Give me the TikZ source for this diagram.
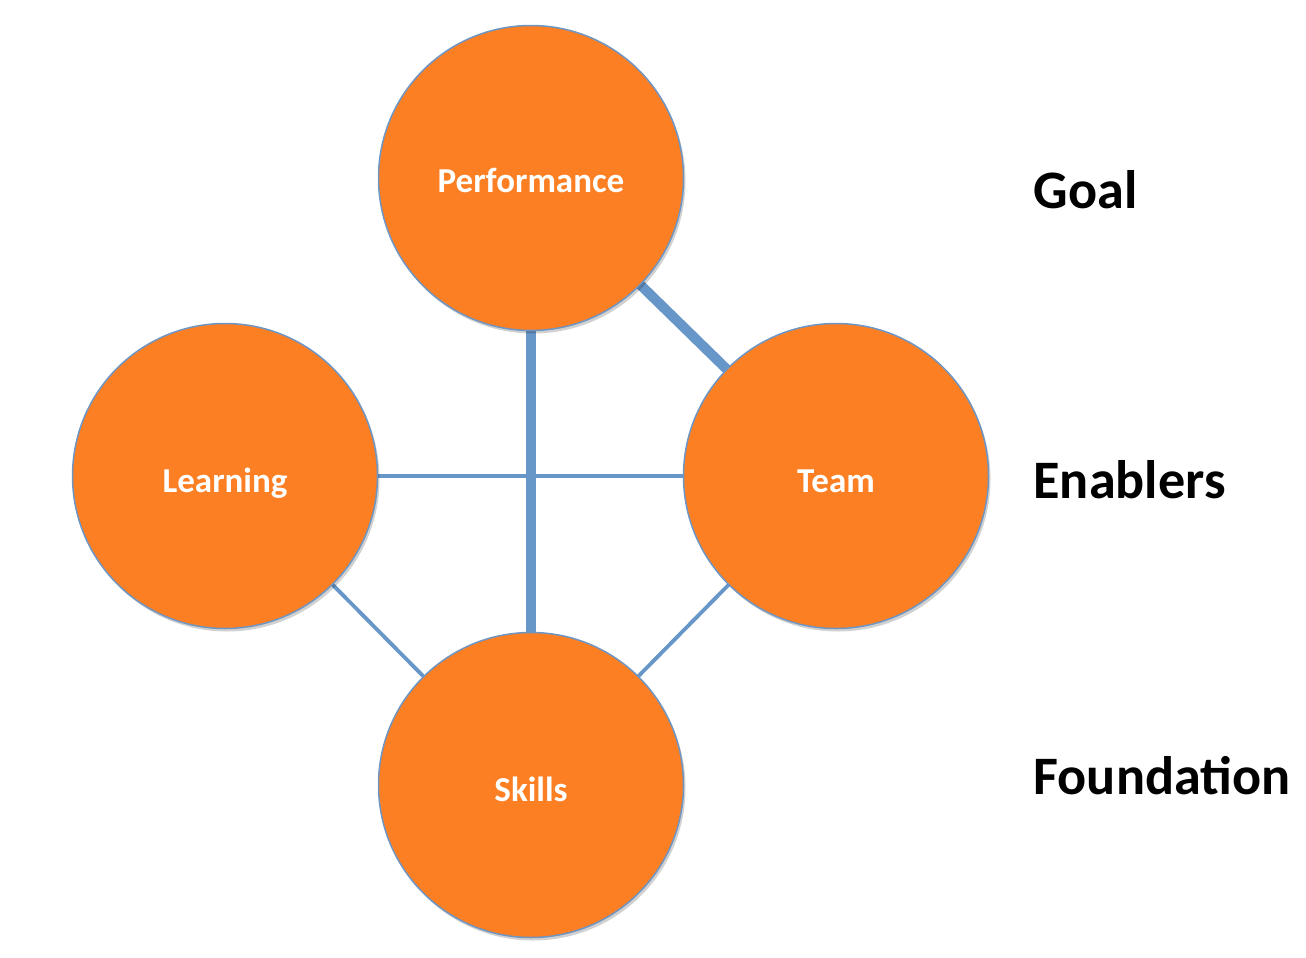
\documentclass[tikz,border=0pt]{standalone}
\usepackage{fontspec}
\setmainfont{Carlito}
\usetikzlibrary{shadows}
\definecolor{circfill}{HTML}{FD7F23}
\definecolor{circline}{HTML}{6F95C2}
\definecolor{linkblue}{HTML}{6796C8}
\tikzset{
  bubble/.style={circle, minimum size=305pt, inner sep=0pt, fill=circfill, draw=circline, line width=1.5pt,
    drop shadow={shadow xshift=2pt, shadow yshift=-3pt, fill=black, opacity=0.18}},
  bubbletext/.style={anchor=base, text=white, font=\fontsize{35}{38}\selectfont\bfseries},
  sidelabel/.style={anchor=base west, text=black, font=\fontsize{54.2}{58}\selectfont\bfseries},
  thicklink/.style={draw=linkblue, line width=10pt},
  thinlink/.style={draw=linkblue, line width=3.8pt}
}
\begin{document}
\begin{tikzpicture}[x=1pt,y=-1pt]
\useasboundingbox (0,0) rectangle (1306,958);
\coordinate (P) at (531,178);
\coordinate (L) at (225,476);
\coordinate (T) at (836,476);
\coordinate (S) at (531,785);
\draw[thinlink] (L) -- (T);
\draw[thinlink] (L) -- (S);
\draw[thinlink] (T) -- (S);
\draw[thicklink] (P) -- (S);
\draw[thicklink] (P) -- (T);
\node[bubble] (perf) at (P) {};
\node[bubble] (learn) at (L) {};
\node[bubble] (team) at (T) {};
\node[bubble] (skills) at (S) {};
\node[bubbletext] (tperf) at (531,192) {Performance};
\node[bubbletext] (tlearn) at (225,492) {Learning};
\node[bubbletext] (tteam) at (836,492) {Team};
\node[bubbletext] (tskills) at (531,801) {Skills};
\node[sidelabel] (goal) at (1030,208) {Goal};
\node[sidelabel] (enab) at (1030,498) {Enablers};
\node[sidelabel] (found) at (1030,794) {Foundation};
\end{tikzpicture}
\end{document}
